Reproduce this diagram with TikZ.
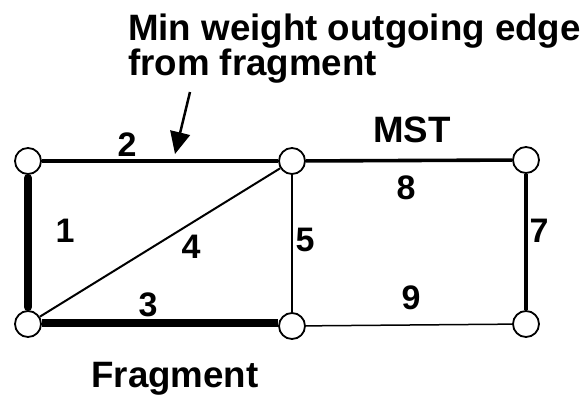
\documentclass[tikz,border=0pt]{standalone}
\usepackage{fontspec}
\setmainfont{Liberation Sans}
\usetikzlibrary{arrows.meta}
\begin{document}
\begin{tikzpicture}[x=1pt,y=-1pt,
  vert/.style={circle,draw,fill=white,line width=1.8pt,minimum size=26pt,inner sep=0pt},
  fragedge/.style={line width=8pt,line cap=round},
  mstedge/.style={line width=3.6pt},
  thinedge/.style={line width=2pt},
  hairedge/.style={line width=1.5pt},
  wlabel/.style={font=\fontsize{34}{34}\selectfont\bfseries,inner sep=0pt},
  biglabel/.style={font=\fontsize{36.7}{35}\selectfont\bfseries,inner sep=0pt}]
\useasboundingbox (0,0) rectangle (588,399);
\node[vert] (a) at (28,161) {};
\node[vert] (b) at (292,161) {};
\node[vert] (c) at (526,160) {};
\node[vert] (d) at (28,324) {};
\node[vert] (e) at (292,326) {};
\node[vert] (f) at (526,324) {};
\draw[mstedge] (a) -- (b);
\draw[fragedge,shorten <=3pt,shorten >=3pt] (a) -- (d);
\draw[line width=8pt] (d.east |- 0,323) -- (e.west |- 0,323);
\draw[thinedge] (d) -- (b);
\draw[thinedge] (b) -- (e);
\draw[mstedge] (b) -- (c);
\draw[mstedge] (c) -- (f);
\draw[hairedge] (e) -- (f);
\node[wlabel] (l2) at (127,145) {2};
\node[wlabel] (l1) at (65,231) {1};
\node[wlabel] (l4) at (191,247) {4};
\node[wlabel] (l3) at (148,305) {3};
\node[wlabel] (l5) at (305,240) {5};
\node[wlabel] (l8) at (406,188) {8};
\node[wlabel] (l7) at (539,231) {7};
\node[wlabel] (l9) at (411,298) {9};
\node[biglabel,anchor=base] (mst) at (412,142) {MST};
\node[biglabel,anchor=base] (frag) at (175,387) {Fragment};
\node[biglabel,anchor=base west] (t1) at (128,40) {Min weight outgoing edge};
\node[biglabel,anchor=base west] (t2) at (128,75) {from fragment};
\coordinate (arrstart) at (190,92);
\coordinate (arrtip) at (175,154);
\draw[line width=2.5pt,-{Triangle[length=22pt,width=20pt]}] (arrstart) -- (arrtip);
\end{tikzpicture}
\end{document}
